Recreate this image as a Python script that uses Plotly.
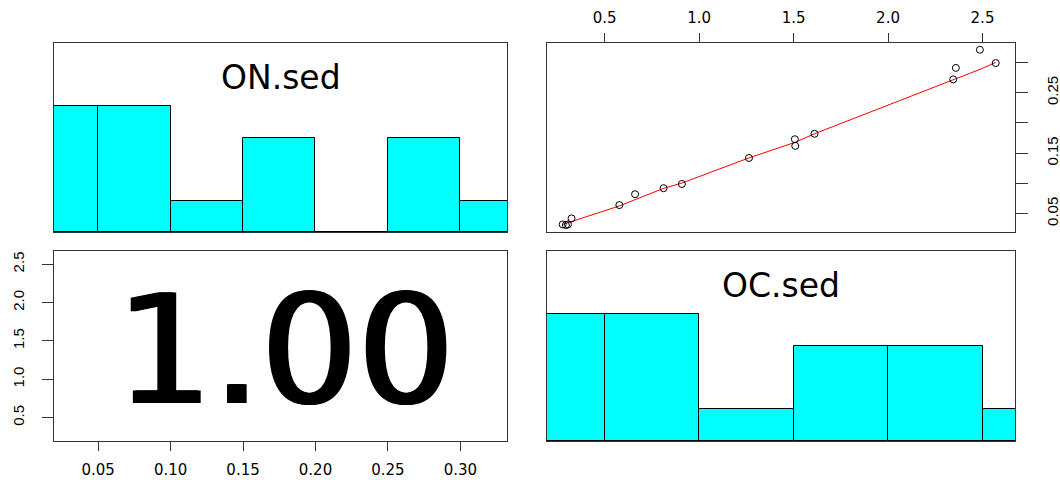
import numpy as np
import plotly.graph_objects as go

# Organic carbon / nitrogen in sediment samples
oc_sed = [0.278, 0.295, 0.306, 0.325, 0.578, 0.661, 0.812, 0.909,
          1.264, 1.507, 1.509, 1.611, 2.345, 2.359, 2.486, 2.570]
on_sed = [0.032, 0.031, 0.032, 0.042, 0.064, 0.082, 0.092, 0.099,
          0.142, 0.173, 0.162, 0.182, 0.272, 0.291, 0.321, 0.299]
# lowess smooth of ON.sed on OC.sed (same order as oc_sed)
on_smooth = [0.032, 0.0338, 0.0349, 0.0369, 0.0626, 0.0730, 0.0917, 0.1005,
             0.1421, 0.1678, 0.1680, 0.1821, 0.2709, 0.2726, 0.2885, 0.300]

# histogram bins and counts
on_breaks = [0.00, 0.05, 0.10, 0.15, 0.20, 0.25, 0.30, 0.35]
on_counts = [4, 4, 1, 3, 0, 3, 1]
oc_breaks = [0.0, 0.5, 1.0, 1.5, 2.0, 2.5, 3.0]
oc_counts = [4, 4, 1, 3, 3, 1]

corr_text = "1.00"

on_ticks = [0.05, 0.10, 0.15, 0.20, 0.25, 0.30]
oc_ticks = [0.5, 1.0, 1.5, 2.0, 2.5]

ON_RANGE = [0.0195, 0.3322]
OC_RANGE = [0.195, 2.672]

W, H = 1060, 480
FRAME = "#333333"
CYAN = "#00FFFF"
H_FONT = "DejaVu Sans"
V_FONT = "Liberation Sans"


def px_x(a, b):
    return [a / W, b / W]


def px_y(top, bottom):
    return [1 - bottom / H, 1 - top / H]


col1 = px_x(54, 507)
col2 = px_x(547, 1015)
row1 = px_y(43, 232)
row2 = px_y(251, 441)

fig = go.Figure()


def hist_bars(breaks, counts, xa, ya):
    mids = [(breaks[i] + breaks[i + 1]) / 2 for i in range(len(counts))]
    widths = [breaks[i + 1] - breaks[i] for i in range(len(counts))]
    top = max(counts)
    fig.add_trace(go.Bar(
        x=mids, y=[c / top for c in counts], width=widths,
        marker=dict(color=CYAN, line=dict(color="black", width=1)),
        xaxis=xa, yaxis=ya, showlegend=False, hoverinfo="skip"))


hist_bars(on_breaks, on_counts, "x", "y")
hist_bars(oc_breaks, oc_counts, "x4", "y4")

# scatter of ON.sed against OC.sed with smooth
fig.add_trace(go.Scatter(
    x=oc_sed, y=on_smooth, mode="lines",
    line=dict(color="red", width=1), xaxis="x2", yaxis="y2",
    showlegend=False, hoverinfo="skip"))
fig.add_trace(go.Scatter(
    x=oc_sed, y=on_sed, mode="markers",
    marker=dict(symbol="circle-open", size=7, color="black", line=dict(width=1)),
    xaxis="x2", yaxis="y2", showlegend=False))

# empty trace so the correlation panel gets its axes drawn
fig.add_trace(go.Scatter(x=[], y=[], mode="markers", xaxis="x3", yaxis="y3",
                         showlegend=False, hoverinfo="skip"))

box = dict(showline=True, linecolor=FRAME, linewidth=1, mirror=True,
           showgrid=False, zeroline=False)
no_ticks = dict(showticklabels=False, ticks="")

hfont = dict(family=H_FONT, size=15, color="black")
vfont = dict(family=V_FONT, size=15, color="black")

fig.update_layout(
    width=W, height=H, margin=dict(l=0, r=0, t=0, b=0),
    paper_bgcolor="white", plot_bgcolor="white", bargap=0,
    xaxis=dict(domain=col1, range=ON_RANGE, anchor="y", **box, **no_ticks),
    yaxis=dict(domain=row1, range=[0, 1.5], anchor="x", **box, **no_ticks),
    xaxis2=dict(domain=col2, range=OC_RANGE, anchor="y2", side="top", **box,
                ticks="outside", ticklen=9, tickcolor=FRAME, tickvals=oc_ticks,
                ticktext=[f"{v:.1f}" for v in oc_ticks], tickfont=hfont, tickangle=0,
                ticklabelstandoff=4),
    yaxis2=dict(domain=row1, range=ON_RANGE, anchor="x2", side="right", **box,
                ticks="outside", ticklen=12, tickcolor=FRAME, tickvals=on_ticks,
                ticktext=[f"{v:.2f}" if i % 2 == 0 else "" for i, v in enumerate(on_ticks)],
                tickfont=vfont, tickangle=-90, ticklabelstandoff=12),
    xaxis3=dict(domain=col1, range=ON_RANGE, anchor="y3", **box,
                ticks="outside", ticklen=9, tickcolor=FRAME, tickvals=on_ticks,
                ticktext=[f"{v:.2f}" for v in on_ticks], tickfont=hfont, tickangle=0,
                ticklabelstandoff=6),
    yaxis3=dict(domain=row2, range=OC_RANGE, anchor="x3", **box,
                ticks="outside", ticklen=11, tickcolor=FRAME, tickvals=oc_ticks,
                ticktext=[f"{v:.1f}" for v in oc_ticks], tickfont=vfont, tickangle=-90,
                ticklabelstandoff=12),
    xaxis4=dict(domain=col2, range=OC_RANGE, anchor="y4", **box, **no_ticks),
    yaxis4=dict(domain=row2, range=[0, 1.5], anchor="x4", **box, **no_ticks),
)

fig.add_annotation(x=sum(col1) / 2, y=1 - 77 / H, xref="paper", yref="paper",
                   text="ON.sed", showarrow=False, xanchor="center", yanchor="middle",
                   font=dict(family=H_FONT, size=33, color="black"))
fig.add_annotation(x=sum(col2) / 2, y=1 - 285 / H, xref="paper", yref="paper",
                   text="OC.sed", showarrow=False, xanchor="center", yanchor="middle",
                   font=dict(family=H_FONT, size=33, color="black"))
fig.add_annotation(x=sum(col1) / 2 + 4 / W, y=sum(row2) / 2 - 4 / H, xref="paper", yref="paper",
                   text=corr_text, showarrow=False, xanchor="center", yanchor="middle",
                   font=dict(family=H_FONT, size=152, color="black",
                             shadow="2px 0px 0px black, -2px 0px 0px black"))

fig.write_html("out.html")
